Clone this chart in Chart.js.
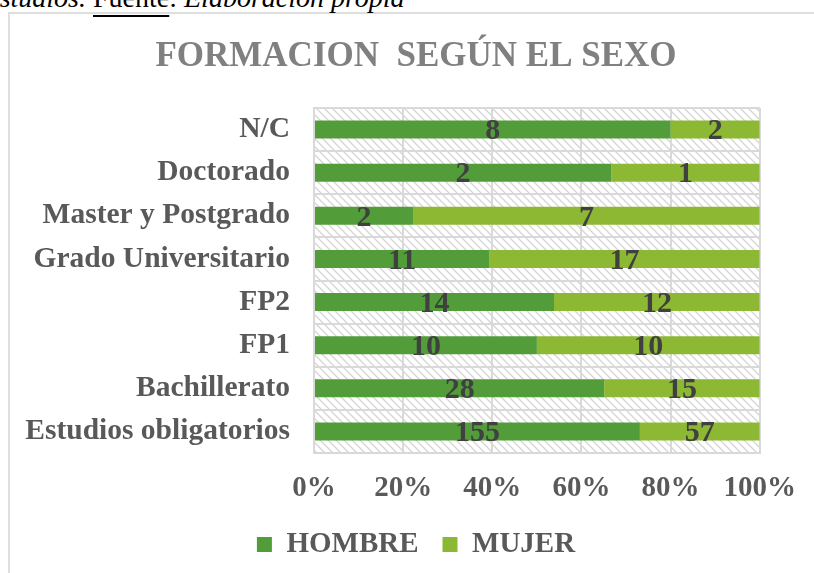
<!DOCTYPE html>
<html>
<head>
<meta charset="utf-8">
<script src="https://cdn.jsdelivr.net/npm/chart.js@4"></script>
<style>
  html, body { margin: 0; padding: 0; background: #fff; overflow: hidden; }
  #wrap { position: relative; width: 814px; height: 573px; }
  #frame { position: absolute; left: 8px; top: 12px; width: 900px; height: 700px;
           border: 2px solid #dedede; box-sizing: border-box; }
  #caption { position: absolute; left: 93px; top: -16px; font-family: 'Liberation Serif', serif;
             font-size: 28px; line-height: 28px; white-space: nowrap; color: #000; }
  #caption .before { position: absolute; right: 100%; font-style: italic; }
  #caption u { text-underline-offset: 8px; text-decoration-thickness: 2px; }
  #caption i { font-style: italic; }
  canvas { position: absolute; left: 0; top: 0; }
</style>
</head>
<body>
<div id="wrap">
  <div id="frame"></div>
  <div id="caption"><span class="before">estudios.&nbsp;</span><u>Fuente</u>: <i>Elaboración propia</i></div>
  <canvas id="chart" width="814" height="573"></canvas>
</div>
<script>
const categories = ['N/C', 'Doctorado', 'Master y Postgrado', 'Grado Universitario', 'FP2', 'FP1', 'Bachillerato', 'Estudios obligatorios'];
const hombre = [8, 2, 2, 11, 14, 10, 28, 155];
const mujer = [2, 1, 7, 17, 12, 10, 15, 57];
const xTicks = ['0%', '20%', '40%', '60%', '80%', '100%'];

const serif = "'Liberation Serif', 'Times New Roman', serif";

// 100% stacked: share of each row
const pct = (arr) => arr.map((v, i) => v / (hombre[i] + mujer[i]) * 100);

const makeHatch = () => {
  const c = document.createElement('canvas');
  c.width = 8; c.height = 8;
  const g = c.getContext('2d');
  g.strokeStyle = '#d4d4d4';
  g.lineWidth = 1.3;
  g.beginPath();
  g.moveTo(-2, -2); g.lineTo(10, 10);
  g.moveTo(-2, 6); g.lineTo(2, 10);
  g.moveTo(6, -2); g.lineTo(10, 2);
  g.stroke();
  return c;
};

const hatchBg = {
  id: 'hatchBg',
  beforeDraw(chart) {
    const { ctx, chartArea: a } = chart;
    ctx.save();
    ctx.fillStyle = ctx.createPattern(makeHatch(), 'repeat');
    ctx.fillRect(a.left, a.top, a.right - a.left, a.bottom - a.top);
    ctx.restore();
  }
};

const countLabels = {
  id: 'countLabels',
  afterDatasetsDraw(chart) {
    const { ctx } = chart;
    const raw = [hombre, mujer];
    ctx.save();
    ctx.font = `bold 30px ${serif}`;
    ctx.fillStyle = '#404040';
    ctx.textAlign = 'center';
    ctx.textBaseline = 'middle';
    chart.data.datasets.forEach((ds, d) => {
      chart.getDatasetMeta(d).data.forEach((bar, i) => {
        ctx.fillText(raw[d][i], (bar.x + bar.base) / 2, bar.y + 2);
      });
    });
    ctx.restore();
  }
};

new Chart(document.getElementById('chart'), {
  type: 'bar',
  data: {
    labels: categories,
    datasets: [
      { label: 'HOMBRE', data: pct(hombre), backgroundColor: '#529d3a', categoryPercentage: 1, barPercentage: 0.42 },
      { label: 'MUJER', data: pct(mujer), backgroundColor: '#8cb833', categoryPercentage: 1, barPercentage: 0.42 }
    ]
  },
  options: {
    indexAxis: 'y',
    responsive: false,
    animation: false,
    layout: { padding: { left: 18, right: 0, top: 0, bottom: 4 } },
    scales: {
      x: {
        stacked: true,
        min: 0, max: 100,
        afterFit: (s) => { s.height = 53; },
        ticks: {
          stepSize: 20,
          padding: 18,
          color: '#595959',
          font: { family: serif, size: 29, weight: 'bold' },
          callback: (v, i) => xTicks[i]
        },
        grid: { color: '#d9d9d9', lineWidth: 2, drawTicks: false },
        border: { color: '#d9d9d9', width: 2 }
      },
      y: {
        stacked: true,
        afterFit: (s) => { s.width = 296; },
        ticks: {
          padding: 24,
          color: '#595959',
          font: { family: serif, size: 29.5, weight: 'bold' }
        },
        grid: { color: '#d9d9d9', lineWidth: 2, drawTicks: false },
        border: { color: '#d9d9d9', width: 2 }
      },
      // empty right-hand axis, only reserves space on the right
      yRight: {
        type: 'category',
        position: 'right',
        afterFit: (s) => { s.width = 53; },
        ticks: { display: false },
        grid: { display: false, drawTicks: false },
        border: { display: false }
      }
    },
    plugins: {
      title: {
        display: true,
        text: 'FORMACION  SEGÚN EL SEXO',
        color: '#808080',
        font: { family: serif, size: 35, weight: 'bold' },
        padding: { top: 36, bottom: 30 }
      },
      legend: {
        position: 'bottom',
        labels: {
          color: '#595959',
          font: { family: serif, size: 29, weight: 'bold' },
          boxWidth: 15,
          boxHeight: 15,
          padding: 24
        }
      },
      tooltip: { enabled: false }
    }
  },
  plugins: [hatchBg, countLabels]
});
</script>
</body>
</html>
